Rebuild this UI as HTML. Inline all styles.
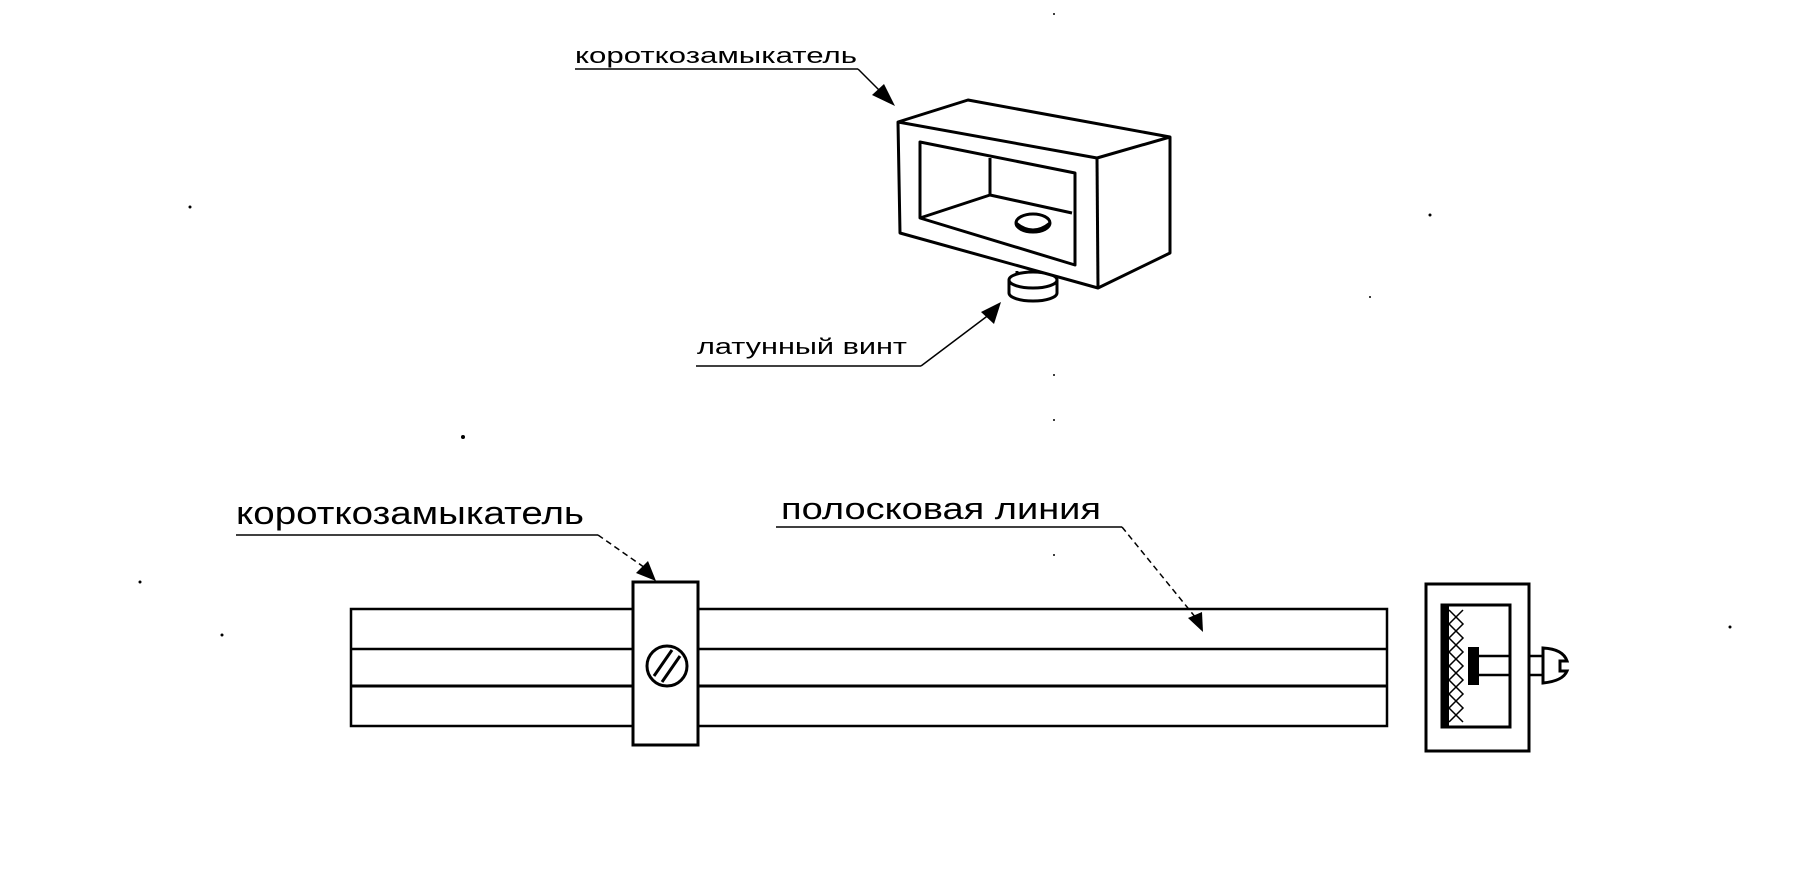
<!DOCTYPE html>
<html><head><meta charset="utf-8"><style>
html,body{margin:0;padding:0;background:#fff;}
svg{display:block;}
text{font-family:"Liberation Sans Narrow","Liberation Sans",sans-serif;fill:#000;}
</style></head><body>
<svg width="1796" height="880" viewBox="0 0 1796 880" xmlns="http://www.w3.org/2000/svg">
<g fill="none" stroke="#000" stroke-width="3" stroke-linejoin="round">
<!-- bottom screw -->
<path d="M1017,271 v12 a16,6 0 0 0 32,0 v-12" fill="#fff"/>
<path d="M1009,280 v13 a24,8 0 0 0 48,0 v-13" fill="#fff"/>
<ellipse cx="1033" cy="280" rx="24" ry="8" fill="#fff"/>
<!-- top box -->
<polygon points="898,122 968,100 1170,137 1170,253 1098,288 900,233" fill="#fff"/>
<polyline points="898,122 1097,158 1170,137"/>
<line x1="1097" y1="158" x2="1098" y2="288"/>
<polygon points="920,142 1075,173 1075,265 920,218"/>
<polyline points="990,158 990,195 920,218"/>
<line x1="990" y1="195" x2="1072" y2="213"/>
<ellipse cx="1033" cy="223" rx="17" ry="9"/>
<path d="M1016,223 q17,14 34,0"/>
</g>
<!-- labels top -->
<text x="575" y="63" font-size="22" textLength="282" lengthAdjust="spacingAndGlyphs">короткозамыкатель</text>
<line x1="575" y1="69" x2="858" y2="69" stroke="#000" stroke-width="1.5"/>
<line x1="858" y1="69" x2="885" y2="96" stroke="#000" stroke-width="1.5"/>
<polygon points="895,106 872,95 884,84" fill="#000"/>
<text x="697" y="354" font-size="22" textLength="210" lengthAdjust="spacingAndGlyphs">латунный винт</text>
<line x1="696" y1="366" x2="921" y2="366" stroke="#000" stroke-width="1.5"/>
<line x1="921" y1="366" x2="990" y2="314" stroke="#000" stroke-width="1.5"/>
<polygon points="1001,302 994,324 981,312" fill="#000"/>
<!-- bottom labels -->
<text x="236" y="524" font-size="32" textLength="348" lengthAdjust="spacingAndGlyphs">короткозамыкатель</text>
<line x1="236" y1="535" x2="598" y2="535" stroke="#000" stroke-width="1.5"/>
<line x1="598" y1="535" x2="648" y2="570" stroke="#000" stroke-width="1.5" stroke-dasharray="6,4"/>
<text x="781" y="519" font-size="31" textLength="320" lengthAdjust="spacingAndGlyphs">полосковая линия</text>
<line x1="776" y1="527" x2="1122" y2="527" stroke="#000" stroke-width="1.5"/>
<!-- strip line -->
<g fill="none" stroke="#000" stroke-width="2.5">
<rect x="351" y="609" width="1036" height="117" fill="#fff"/>
<line x1="351" y1="649" x2="1387" y2="649"/>
<line x1="351" y1="686" x2="1387" y2="686" stroke-width="3"/>
<rect x="633" y="582" width="65" height="163" fill="#fff" stroke-width="3"/>
<circle cx="667" cy="666" r="20" stroke-width="3"/>
<line x1="654" y1="676" x2="672" y2="650" stroke-width="3"/>
<line x1="662" y1="682" x2="680" y2="656" stroke-width="3"/>
</g>
<line x1="1122" y1="527" x2="1196" y2="618" stroke="#000" stroke-width="1.5" stroke-dasharray="6,4"/>
<polygon points="1203,632 1188,618 1202,612" fill="#000"/>
<polygon points="656,581 636,573 648,561" fill="#000"/>
<!-- end view -->
<g transform="translate(-8,0)">
<g fill="none" stroke="#000" stroke-width="2.5">
<rect x="1434" y="584" width="103" height="167" stroke-width="3"/>
<rect x="1450" y="605" width="68" height="122" stroke-width="3"/>
<line x1="1487" y1="656" x2="1518" y2="656"/>
<line x1="1487" y1="675" x2="1518" y2="675"/>
<path d="M1537,656 h14 M1537,675 h14"/>
<path d="M1551,648 v35 q20,-2 24,-12 h-7 v-10 h7 q-4,-12 -24,-13z" stroke-width="3"/>
<path d="M1457,610 l14,14 l-14,14 l14,14 l-14,14 l14,14 l-14,14 l14,14 l-14,14 M1471,610 l-14,14 l14,14 l-14,14 l14,14 l-14,14 l14,14 l-14,14 l14,14" stroke-width="1.5"/>
</g>
<rect x="1450" y="605" width="7" height="122" fill="#000"/>
<rect x="1476" y="647" width="11" height="38" fill="#000"/>
</g>
<!-- specks -->
<g fill="#000">
<circle cx="463" cy="437" r="2"/><circle cx="190" cy="207" r="1.5"/><circle cx="1430" cy="215" r="1.5"/>
<circle cx="1054" cy="14" r="1"/><circle cx="1054" cy="375" r="1"/><circle cx="1054" cy="420" r="1"/><circle cx="1054" cy="555" r="1"/>
<circle cx="140" cy="582" r="1.5"/><circle cx="222" cy="635" r="1.5"/><circle cx="1730" cy="627" r="1.5"/><circle cx="1370" cy="297" r="1"/>
</g>
</svg>
</body></html>
